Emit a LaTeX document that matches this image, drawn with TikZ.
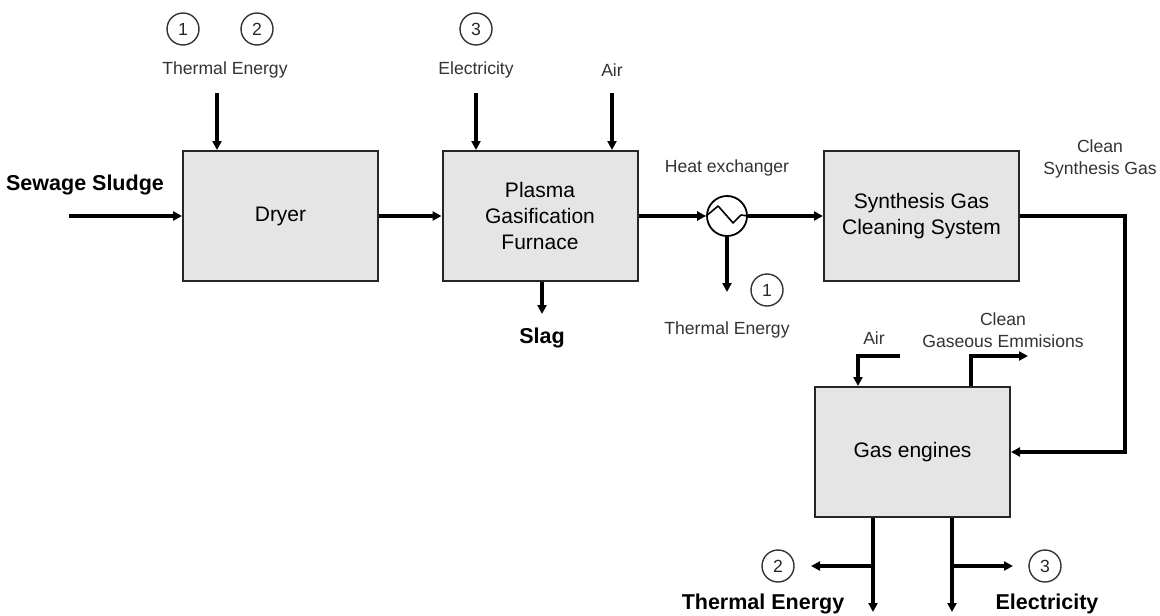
\documentclass[tikz,border=0pt]{standalone}
\usepackage{fontspec}
\setmainfont{Liberation Sans}
\usetikzlibrary{arrows.meta, positioning}

\tikzset{
  unit/.style={draw=black!85, line width=1pt, fill=black!10, minimum width=97.5pt,
    minimum height=65pt, align=center, font=\fontsize{10.5}{13}\selectfont},
  flow/.style={line width=1.6pt, -{Triangle[length=4.5pt,width=4.5pt]}},
  lbl/.style={text=black!80, align=center, font=\fontsize{8.8}{11}\selectfont},
  blbl/.style={font=\bfseries\fontsize{10.75}{13}\selectfont},
  num/.style={circle, draw=black!80, line width=0.7pt, minimum size=16pt,
    inner sep=0pt, text=black!85, font=\fontsize{8.8}{10}\selectfont},
}

\begin{document}
\begin{tikzpicture}[x=0.5pt, y=-0.5pt]
  \useasboundingbox (0,0) rectangle (1160,615);

  % process units
  \node[unit] (dryer) at (280.5,216) {Dryer};
  \node[unit] (furnace) at (540,216) {Plasma\\Gasification\\Furnace};
  \node[circle, draw, line width=0.9pt, minimum size=20pt, inner sep=0pt] (hx) at (727,216) {};
  \node[unit] (cleaning) at (921.5,216) {Synthesis Gas\\Cleaning System};
  \node[unit] (engines) at (912.5,452) {Gas engines};

  % dryer
  \node[blbl] (sludge) at (85,185) {Sewage Sludge};
  \coordinate (sludgein) at (69,216);
  \draw[flow] (sludgein) -- (dryer);
  \node[num] (n1a) at (183,29) {1};
  \node[num] (n2a) at (257,29) {2};
  \node[lbl] (dryheat) at (225,70) {Thermal Energy};
  \coordinate (dryheatin) at (217,93);
  \draw[flow] (dryheatin) -- (dryheatin |- dryer.north);
  \draw[flow] (dryer) -- (furnace);

  % furnace
  \node[num] (n3a) at (476,29) {3};
  \node[lbl] (elec) at (476,70) {Electricity};
  \node[lbl] (air1) at (612,70) {Air};
  \coordinate (elecin) at (476,93);
  \coordinate (air1in) at (612,93);
  \draw[flow] (elecin) -- (elecin |- furnace.north);
  \draw[flow] (air1in) -- (air1in |- furnace.north);
  \coordinate (slagout) at (542,314);
  \draw[flow] (slagout |- furnace.south) -- (slagout);
  \node[blbl] (slag) at (542,338) {Slag};

  % heat exchanger
  \draw[flow] (furnace) -- (hx);
  \draw[flow] (hx) -- (cleaning);
  \node[lbl] (hxlbl) at (727,168) {Heat exchanger};
  \draw[line width=0.8pt, line join=round] (hx.west) -- ++(12,-10) -- ++(15,17) -- ++(8,-8) -- (hx.east);
  \coordinate (hxout) at (727,292);
  \draw[flow] (hx) -- (hxout);
  \node[num] (n1b) at (767,290) {1};
  \node[lbl] (hxheat) at (727,330) {Thermal Energy};

  % clean gas to engines
  \node[lbl] (cleangas) at (1100,159) {Clean\\Synthesis Gas};
  \coordinate (loop) at (1125,216);
  \draw[flow] (cleaning.east) -- (loop) -- (loop |- engines.east) -- (engines.east);

  % gas engines
  \node[lbl] (air2) at (874,338) {Air};
  \coordinate (air2in) at (900,356);
  \coordinate (air2turn) at (858,356);
  \draw[flow] (air2in) -- (air2turn) -- (air2turn |- engines.north);
  \node[lbl] (exh) at (1003,330) {Clean\\Gaseous Emmisions};
  \coordinate (exhturn) at (971,356);
  \coordinate (exhout) at (1028,356);
  \draw[flow] (exhturn |- engines.north) -- (exhturn) -- (exhout);

  \coordinate (heatout) at (873,612);
  \coordinate (powerout) at (952,612);
  \draw[flow] (heatout |- engines.south) -- (heatout);
  \draw[flow] (powerout |- engines.south) -- (powerout);
  \coordinate (heatbranch) at (873,566);
  \coordinate (heatleft) at (811,566);
  \coordinate (powerbranch) at (952,566);
  \coordinate (powerright) at (1013,566);
  \draw[flow] (heatbranch) -- (heatleft);
  \draw[flow] (powerbranch) -- (powerright);
  \node[num] (n2b) at (778,566) {2};
  \node[num] (n3b) at (1045,566) {3};
  \node[blbl] (engheat) at (763,604) {Thermal Energy};
  \node[blbl] (engpower) at (1047,604) {Electricity};
\end{tikzpicture}
\end{document}
